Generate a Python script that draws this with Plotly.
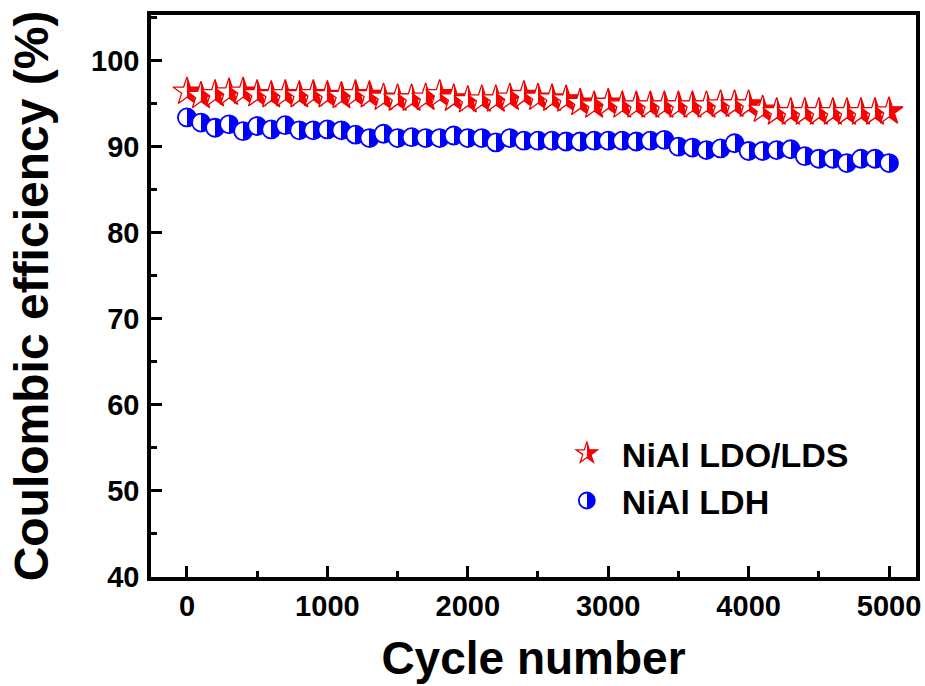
import plotly.graph_objects as go

cycles = list(range(0, 5001, 100))

ldo_lds = [96.4, 95.9, 96.1, 96.3, 96.4, 96.1, 96.0, 96.1, 96.0, 96.1,
           96.0, 95.9, 96.1, 96.0, 95.7, 95.6, 95.6, 95.7, 96.1, 95.6,
           95.4, 95.5, 95.5, 95.7, 96.0, 95.7, 95.6, 95.5, 95.1, 94.8,
           95.1, 94.8, 94.8, 94.8, 94.8, 94.8, 94.8, 94.8, 94.9, 94.9,
           94.9, 94.3, 94.0, 94.0, 94.0, 94.0, 94.0, 94.0, 94.0, 94.0, 94.1]

ldh = [93.4, 92.8, 92.2, 92.6, 91.8, 92.4, 92.0, 92.5, 91.9, 91.9,
       92.0, 91.9, 91.4, 91.0, 91.5, 91.0, 91.1, 91.0, 91.0, 91.3,
       91.0, 91.0, 90.5, 91.0, 90.7, 90.7, 90.7, 90.6, 90.6, 90.7,
       90.7, 90.7, 90.6, 90.7, 90.8, 90.0, 89.9, 89.6, 89.8, 90.4,
       89.5, 89.5, 89.6, 89.7, 88.9, 88.6, 88.6, 88.1, 88.6, 88.6, 88.1]

x_ticks = [0, 1000, 2000, 3000, 4000, 5000]
y_ticks = [40, 50, 60, 70, 80, 90, 100]

FONT = "Liberation Sans, Arial, sans-serif"

fig = go.Figure()
# half-filled markers: fill colour white, gradient colour on the left half
fig.add_trace(go.Scatter(
    x=cycles, y=ldo_lds, mode="markers", name="NiAl LDO/LDS",
    marker=dict(symbol="star", size=21, color="#ffffff",
                line=dict(color="#ee0000", width=1.3),
                gradient=dict(type="horizontal", color="#ff0000")),
))
fig.add_trace(go.Scatter(
    x=cycles, y=ldh, mode="markers", name="NiAl LDH",
    marker=dict(symbol="circle", size=18, color="#ffffff",
                line=dict(color="#0000ff", width=1.8),
                gradient=dict(type="horizontal", color="#0000ff")),
))

axis_common = dict(
    showline=True, linecolor="black", linewidth=3.5, mirror=True,
    ticks="inside", tickcolor="black", tickwidth=2.5, ticklen=11,
    showgrid=False, zeroline=False,
    tickfont=dict(family=FONT, size=29, color="black", weight=700),
)

fig.update_xaxes(
    range=[-256, 5192], tickvals=x_ticks,
    minor=dict(ticks="inside", dtick=500, tick0=0, ticklen=6, tickwidth=2.5, tickcolor="black"),
    title=dict(text="Cycle number", font=dict(family=FONT, size=46, color="black", weight=700), standoff=22),
    **axis_common,
)
fig.update_yaxes(
    range=[40, 105.3], tickvals=y_ticks,
    minor=dict(ticks="inside", dtick=5, tick0=40, ticklen=6, tickwidth=2.5, tickcolor="black"),
    title=dict(text="Coulombic efficiency (%)", font=dict(family=FONT, size=48, color="black", weight=700), standoff=28),
    ticklabelstandoff=2,
    **axis_common,
)

fig.update_layout(
    width=925, height=686,
    margin=dict(l=151, r=9, t=15, b=109, autoexpand=False),
    paper_bgcolor="white", plot_bgcolor="white",
    showlegend=True,
    legend=dict(x=0.524, y=0.271, xanchor="left", yanchor="top",
                bgcolor="rgba(0,0,0,0)", itemwidth=60,
                font=dict(family=FONT, size=34, color="black", weight=700),
                itemsizing="trace"),
)

post = """
document.body.style.margin='0';
document.body.style.overflow='hidden';
document.querySelectorAll('linearGradient').forEach(function(g){
  var s = g.querySelectorAll('stop');
  if (s.length === 2) { s[0].setAttribute('offset','50%'); s[1].setAttribute('offset','50%'); }
});
"""

fig.write_html("out.html", config={"displayModeBar": False}, post_script=post)
